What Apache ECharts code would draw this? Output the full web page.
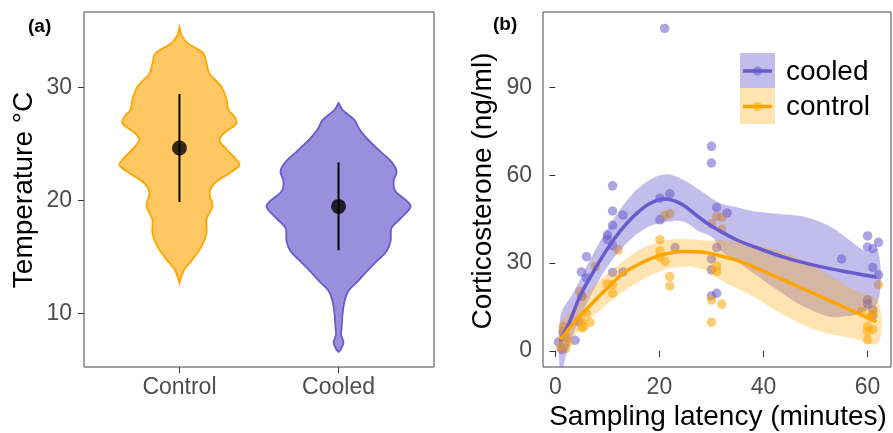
<!DOCTYPE html>
<html>
<head>
<meta charset="utf-8">
<title>Temperature and corticosterone</title>
<script src="https://cdn.jsdelivr.net/npm/echarts@6.0.0/dist/echarts.min.js"></script>
<style>
html, body { margin: 0; padding: 0; background: #fff; }
#chart { width: 893px; height: 433px; }
</style>
</head>
<body>
<div id="chart"></div>
<script>
// panel (a): violins
var groups = ['Control', 'Cooled'];
var tempTicks = [10, 20, 30];
var controlTemp = [35.3, 34.6, 33.9, 33.0, 32.1, 31.2, 30.05, 28.9, 28.0, 27.4, 26.8, 25.9, 25.35, 24.5, 23.6, 23.1, 22.4, 21.5, 20.6, 19.5, 18.3, 17.1, 15.9, 14.76, 13.9, 13.0, 12.7];
var controlDens = [0, .013, .050, .151, .170, .189, .264, .296, .308, .346, .358, .277, .252, .296, .358, .377, .314, .220, .189, .208, .170, .170, .138, .082, .031, .006, 0];
var cooledTemp = [28.6, 28.0, 27.1, 26.4, 25.5, 24.3, 23.4, 22.55, 21.7, 20.8, 19.5, 18.4, 17.55, 16.4, 15.5, 14.6, 13.7, 12.8, 12.0, 11.1, 9.9, 8.7, 8.1, 7.4, 6.8, 6.6];
var cooledDens = [0, .025, .101, .126, .176, .264, .333, .365, .346, .358, .453, .390, .333, .327, .302, .239, .176, .119, .063, .038, .025, .019, .016, .031, .013, 0];
var tempMean = [24.62, 19.46];
var tempLow = [19.85, 15.58];
var tempHigh = [29.4, 23.35];

// panel (b): corticosterone vs latency
var latencyTicks = [0, 20, 40, 60];
var cortTicks = [0, 30, 60, 90];
var cooledPts = [[0.6, 3.0], [1.2, 0.5], [1.5, 6.5], [3.8, 3.6], [4.5, 10], [5.0, 27.0], [6.0, 32.2], [6.0, 24.9], [5.1, 18.7],
  [10.0, 39.6], [10.0, 38.0], [11.0, 56.4], [11.0, 47.8], [11.0, 42.9], [13.0, 46.4], [11.0, 36.0], [11.0, 26.8], [13.0, 27.0],
  [20.1, 52.2], [22.0, 53.7], [20.1, 44.8], [21.0, 110.2], [23.0, 35.3], [30.0, 69.9], [30.0, 64.2], [31.0, 49.0], [33.0, 47.1],
  [31.0, 35.3], [30.0, 31.4], [30.0, 27.7], [30.0, 18.8], [31.0, 19.7], [55.0, 31.4], [60.0, 39.3], [60.0, 35.5], [61.0, 34.9],
  [62.1, 37.1], [61.0, 28.5], [62.1, 26.0], [60.0, 17.4], [60.0, 16.1], [61.0, 14.0], [61.0, 12.1]];
var controlPts = [[1.5, 8.3], [1.9, 4.9], [1.0, 1.4], [2.0, 0.8], [2.5, 3], [4.7, 20.3], [5.0, 18.6], [7.7, 28.8], [6.0, 12.9],
  [5.1, 10.0], [6.7, 9.7], [5.1, 7.8], [5.5, 8.3], [12.1, 34.5], [9.9, 22.9], [11.0, 22.6], [11.0, 19.7], [20.1, 38.0],
  [20.1, 34.2], [21.1, 30.6], [20, 32], [22.0, 25.4], [22.0, 22.2], [21.0, 46.2], [22.0, 46.9], [31.0, 45.9], [32.0, 45.6],
  [30.0, 43.4], [32.0, 41.6], [31.0, 28.9], [31.0, 27.1], [30.0, 17.4], [32.0, 16.0], [30.0, 9.8], [62.1, 22.6], [58.9, 13.5],
  [60.0, 8.3], [61.0, 7.4], [60.0, 6.6], [60.0, 3.8], [60.5, 11.7], [61, 13]];
var cooledFit = [[1, 3.5], [3, 11], [4.7, 18.6], [7.3, 27], [9.9, 34.6], [12.5, 41], [15, 45.9], [18, 50.2], [21, 51.9],
  [24, 50.4], [27, 46.5], [29.1, 43.7], [31.6, 41.0], [35, 37.8], [38, 35.7], [44.5, 31.7], [50.9, 28.8], [57.3, 26.6], [61.7, 25.2]];
var cooledUpper = [[1, 12], [3.5, 20], [6, 28.8], [9.9, 41.4], [14.4, 52.8], [18.2, 58.5], [21.4, 60.4], [24.6, 58.5], [28.5, 54],
  [31.6, 50.5], [35.5, 48.8], [38, 47.7], [43, 46.8], [47.6, 45.9], [52.8, 42.5], [57.3, 36.8], [59.8, 34], [62, 34.6]];
var cooledLower = [[1, -9], [2, -2], [3.5, 6], [6.7, 18.6], [10.5, 30], [14.4, 38], [18, 42.5], [21, 44], [24.6, 44.2], [27.5, 41],
  [30.4, 38.5], [31.6, 34.5], [35, 30.5], [38, 26.6], [44.5, 18.6], [48.5, 14.5], [52.8, 11.7], [56, 11.8], [58.5, 12.9], [62, 16.9]];
var controlFit = [[1, 3.8], [4, 10.5], [6.7, 15.5], [10, 21.5], [13.1, 26.6], [16.5, 30], [19.5, 32.3], [24.6, 34.0], [28, 33.8],
  [31.6, 32.5], [35.5, 30.6], [38, 28.8], [44.5, 23.7], [50.9, 18.6], [57.3, 13.5], [61.7, 10.0]];
var controlUpper = [[1, 9.6], [4.1, 15.2], [8, 23.2], [11.8, 28.8], [15.6, 34], [20.1, 37.4], [24.6, 38.2], [29.7, 37.6], [31.6, 38],
  [38, 36.3], [44.5, 33.4], [50.9, 27.7], [57.3, 20.9], [62, 16.9]];
var controlLower = [[1, -0.8], [4.1, 6], [8, 12.9], [11.8, 18.6], [15.6, 23.2], [20.1, 27.1], [24.6, 28.8], [28.5, 27.8], [31.6, 24.3],
  [38, 18.6], [44.5, 11.7], [50.9, 6.6], [57.3, 4.3], [62, 2.6]];

var ORANGE = '#FFA500';
var PURPLE = '#6A5ACD';
var FONT = 'Liberation Sans, Arial, sans-serif';

var chart = echarts.init(document.getElementById('chart'));

var violins = [
  { t: controlTemp, d: controlDens, fill: 'rgba(255,165,0,0.62)', stroke: ORANGE },
  { t: cooledTemp, d: cooledDens, fill: 'rgba(106,90,205,0.68)', stroke: PURPLE }
];

function renderViolin(params, api) {
  var i = params.dataIndex;
  var v = violins[i];
  var right = [], left = [];
  for (var k = 0; k < v.t.length; k++) {
    right.push(api.coord([i + 1 + v.d[k], v.t[k]]));
    left.unshift(api.coord([i + 1 - v.d[k], v.t[k]]));
  }
  return {
    type: 'polygon',
    shape: { points: right.concat(left), smooth: 0.3 },
    style: { fill: v.fill, stroke: v.stroke, lineWidth: 1.8 }
  };
}

function renderErrBar(params, api) {
  var i = params.dataIndex;
  var a = api.coord([i + 1, tempLow[i]]);
  var b = api.coord([i + 1, tempHigh[i]]);
  return {
    type: 'line',
    shape: { x1: a[0], y1: a[1], x2: b[0], y2: b[1] },
    style: { stroke: '#000', lineWidth: 2 }
  };
}

function bandRenderer(upper, lower, fill) {
  return function (params, api) {
    var pts = [];
    for (var k = 0; k < upper.length; k++) pts.push(api.coord(upper[k]));
    for (var j = lower.length - 1; j >= 0; j--) pts.push(api.coord(lower[j]));
    return {
      type: 'polygon',
      shape: { points: pts, smooth: 0.35 },
      style: { fill: fill }
    };
  };
}

var tickLabel = { color: '#4D4D4D', fontSize: 23, fontFamily: FONT };

var option = {
  animation: false,
  backgroundColor: '#fff',
  grid: [
    { left: 84, top: 12, width: 350, height: 355, show: true, borderColor: '#444', borderWidth: 1 },
    { left: 543, top: 12, width: 348, height: 355, show: true, borderColor: '#444', borderWidth: 1 }
  ],
  xAxis: [
    {
      type: 'value', gridIndex: 0, min: 0.4, max: 2.6,
      axisLine: { show: false }, splitLine: { show: false },
      axisTick: { show: true, length: 6, customValues: [1, 2], lineStyle: { color: '#333' } },
      axisLabel: Object.assign({ margin: 9, customValues: [1, 2], formatter: function (v) { return groups[Math.round(v) - 1]; } }, tickLabel)
    },
    {
      type: 'value', gridIndex: 1, min: -2.37, max: 64.5,
      axisLine: { show: false }, splitLine: { show: false },
      axisTick: { show: true, length: 6, customValues: latencyTicks, lineStyle: { color: '#333' } },
      axisLabel: Object.assign({ margin: 9, customValues: latencyTicks }, tickLabel)
    }
  ],
  yAxis: [
    {
      type: 'value', gridIndex: 0, min: 5.26, max: 36.65,
      axisLine: { show: false }, splitLine: { show: false },
      axisTick: { show: true, length: 6, customValues: tempTicks, lineStyle: { color: '#333' } },
      axisLabel: Object.assign({ margin: 12, customValues: tempTicks }, tickLabel)
    },
    {
      type: 'value', gridIndex: 1, min: -5.5, max: 115.8,
      axisLine: { show: false }, splitLine: { show: false },
      axisTick: { show: true, length: 6, customValues: cortTicks, lineStyle: { color: '#333' } },
      axisLabel: Object.assign({ margin: 11, customValues: cortTicks }, tickLabel)
    }
  ],
  series: [
    {
      type: 'custom', xAxisIndex: 0, yAxisIndex: 0, z: 1,
      data: [[1, tempMean[0]], [2, tempMean[1]]],
      encode: { x: 0, y: 1 },
      renderItem: renderViolin
    },
    {
      type: 'custom', xAxisIndex: 0, yAxisIndex: 0, z: 2,
      data: [[1, tempMean[0]], [2, tempMean[1]]],
      encode: { x: 0, y: 1 },
      renderItem: renderErrBar
    },
    {
      type: 'scatter', xAxisIndex: 0, yAxisIndex: 0, z: 3,
      data: [[1, tempMean[0]], [2, tempMean[1]]],
      symbolSize: 15, itemStyle: { color: '#000' }
    },
    {
      name: 'cooled', type: 'scatter', xAxisIndex: 1, yAxisIndex: 1, z: 1,
      data: cooledPts, symbolSize: 9.5,
      itemStyle: { color: PURPLE, opacity: 0.55 }
    },
    {
      name: 'control', type: 'scatter', xAxisIndex: 1, yAxisIndex: 1, z: 1,
      data: controlPts, symbolSize: 9.5,
      itemStyle: { color: ORANGE, opacity: 0.55 }
    },
    {
      type: 'custom', xAxisIndex: 1, yAxisIndex: 1, z: 2, clip: true,
      data: [[30, 30]], encode: { x: 0, y: 1 },
      renderItem: bandRenderer(cooledUpper, cooledLower, 'rgba(106,90,205,0.4)')
    },
    {
      type: 'custom', xAxisIndex: 1, yAxisIndex: 1, z: 2, clip: true,
      data: [[30, 30]], encode: { x: 0, y: 1 },
      renderItem: bandRenderer(controlUpper, controlLower, 'rgba(255,165,0,0.3)')
    },
    {
      type: 'line', xAxisIndex: 1, yAxisIndex: 1, z: 3,
      data: cooledFit, smooth: 0.4, showSymbol: false,
      lineStyle: { color: PURPLE, width: 3.5 }
    },
    {
      type: 'line', xAxisIndex: 1, yAxisIndex: 1, z: 3,
      data: controlFit, smooth: 0.4, showSymbol: false,
      lineStyle: { color: ORANGE, width: 3.5 }
    }
  ],
  graphic: [
    { type: 'text', left: 28, top: 17, style: { text: '(a)', font: 'bold 19px ' + FONT, fill: '#000' } },
    { type: 'text', left: 493, top: 15, style: { text: '(b)', font: 'bold 19px ' + FONT, fill: '#000' } },
    { type: 'text', x: 24, y: 190, rotation: Math.PI / 2,
      style: { text: 'Temperature °C', font: '28px ' + FONT, fill: '#000', textAlign: 'center', textVerticalAlign: 'middle' } },
    { type: 'text', x: 483, y: 191, rotation: Math.PI / 2,
      style: { text: 'Corticosterone (ng/ml)', font: '28px ' + FONT, fill: '#000', textAlign: 'center', textVerticalAlign: 'middle' } },
    { type: 'text', x: 718, y: 417,
      style: { text: 'Sampling latency (minutes)', font: '28px ' + FONT, fill: '#000', textAlign: 'center', textVerticalAlign: 'middle' } },
    // legend
    { type: 'rect', shape: { x: 740, y: 53, width: 35, height: 35 }, style: { fill: 'rgba(106,90,205,0.4)' } },
    { type: 'rect', shape: { x: 740, y: 88, width: 35, height: 36 }, style: { fill: 'rgba(255,165,0,0.3)' } },
    { type: 'line', shape: { x1: 743, y1: 71, x2: 772, y2: 71 }, style: { stroke: PURPLE, lineWidth: 3.5 } },
    { type: 'line', shape: { x1: 743, y1: 106.5, x2: 772, y2: 106.5 }, style: { stroke: ORANGE, lineWidth: 3.5 } },
    { type: 'circle', shape: { cx: 757.5, cy: 71, r: 4.5 }, style: { fill: PURPLE, opacity: 0.55 } },
    { type: 'circle', shape: { cx: 757.5, cy: 106.5, r: 4.5 }, style: { fill: ORANGE, opacity: 0.55 } },
    { type: 'text', x: 786, y: 72, style: { text: 'cooled', font: '28px ' + FONT, fill: '#000', textVerticalAlign: 'middle' } },
    { type: 'text', x: 786, y: 107, style: { text: 'control', font: '28px ' + FONT, fill: '#000', textVerticalAlign: 'middle' } }
  ]
};

chart.setOption(option);
</script>
</body>
</html>
